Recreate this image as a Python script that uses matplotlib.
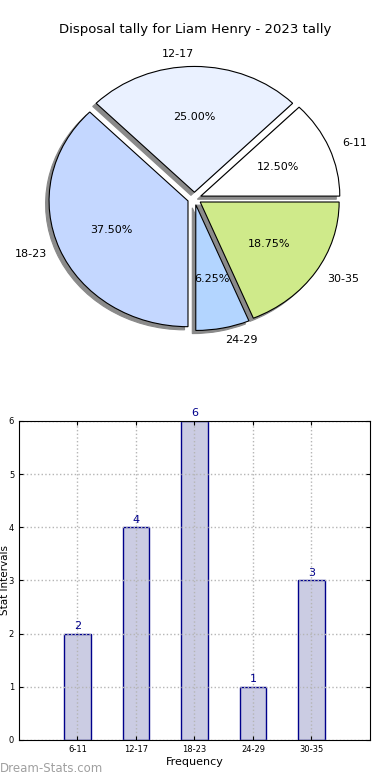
#!/usr/bin/env python3
"""
Disposal tally for Liam Henry - pie + bar chart of stat intervals.
"""

import matplotlib
matplotlib.use("Agg")
import matplotlib.pyplot as plt

# ============================================================
# DATA
# ============================================================

intervals = ["6-11", "12-17", "18-23", "24-29", "30-35"]
counts = [2, 4, 6, 1, 3]
slice_colors = ["#ffffff", "#eaf1ff", "#c4d7ff", "#b3d5ff", "#cfea8a"]
title = "Disposal tally for Liam Henry - 2023 tally"

# ============================================================
# FIGURE
# ============================================================

fig = plt.figure(figsize=(3.9, 7.8), dpi=100)

fig.text(0.5, 1 - 30 / 780, title, ha="center", va="center", fontsize=9.5)

# ------------------------------------------------------------
# PIE
# ------------------------------------------------------------

ax_pie = fig.add_axes([0.071, 0.552, 0.855, 0.387])

wedges, texts, autotexts = ax_pie.pie(
    counts,
    labels=intervals,
    colors=slice_colors,
    explode=[0.05] * len(counts),
    autopct="%.2f%%",
    shadow={"ox": -0.018, "oy": -0.018, "facecolor": "#8a8a8a",
            "edgecolor": "#8a8a8a", "alpha": 1},
    startangle=0,
    wedgeprops={"edgecolor": "black", "linewidth": 0.8},
    textprops={"fontsize": 8},
)

ax_pie.set_aspect("auto")
ax_pie.set_xlim(-1.2, 1.2)
ax_pie.set_ylim(-1.2, 1.2)

# ------------------------------------------------------------
# BAR
# ------------------------------------------------------------

ax_bar = fig.add_axes([0.0487, 0.0513, 0.9, 0.409])

positions = list(range(1, len(intervals) + 1))

ax_bar.bar(
    positions,
    counts,
    width=0.45,
    color="#cbcce3",
    edgecolor="#00008b",
    linewidth=1,
)

for x, v in zip(positions, counts):
    ax_bar.text(x, v + 0.05, str(v), ha="center", va="bottom",
                fontsize=8, color="#00008b", clip_on=False)

ax_bar.set_xlim(0, 6)
ax_bar.set_ylim(0, 6)
ax_bar.set_xticks(positions)
ax_bar.set_xticklabels(intervals)
ax_bar.set_yticks(range(0, 7))

ax_bar.tick_params(direction="in", top=True, right=True, labelsize=6, length=3)
ax_bar.set_axisbelow(False)
ax_bar.grid(True, linestyle=":", color="#b5b5b5", linewidth=1)
for spine in ax_bar.spines.values():
    spine.set_zorder(5)

ax_bar.set_xlabel("Frequency", fontsize=8, labelpad=2)
ax_bar.set_ylabel("Stat Intervals", fontsize=7.5, va="center")
ax_bar.yaxis.set_label_coords(-0.04, 0.5)

fig.text(0.0, 0.006, "Dream-Stats.com", fontsize=8.5, color="#a0a0a0",
         ha="left", va="bottom")

fig.savefig("out.png", dpi=100)
